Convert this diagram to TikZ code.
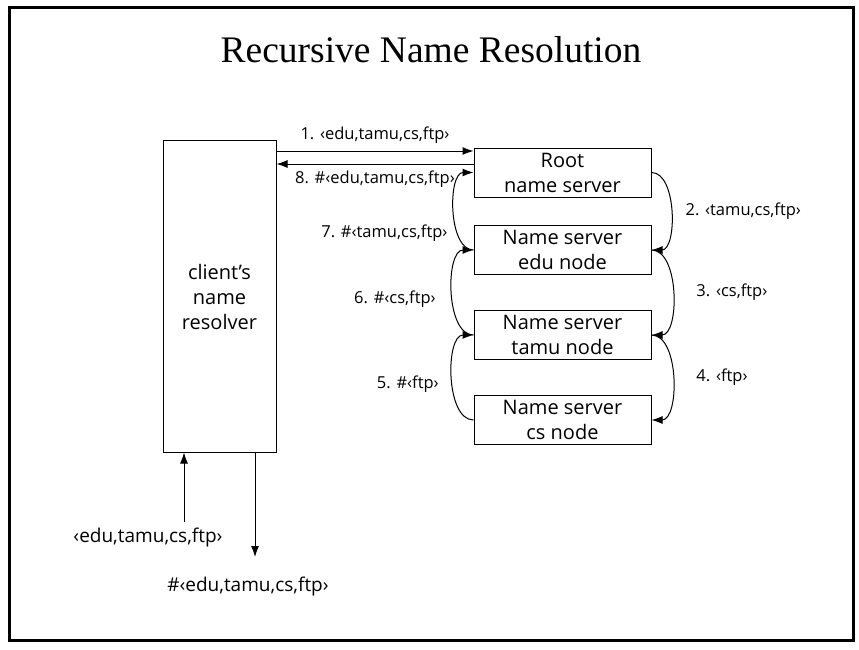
\documentclass[tikz,border=0pt]{standalone}
\usepackage{fontspec}
\setmainfont{Open Sans}
\newfontfamily\titlefont{Liberation Serif}
\usetikzlibrary{arrows.meta,positioning}

\begin{document}
\begin{tikzpicture}[x=1pt,y=-1pt,->,>={Latex[length=11pt,width=8pt]},auto,node distance=85pt,
                line width=1pt,
                server node/.style={draw,minimum width=177pt,minimum height=49pt,align=center,font=\fontsize{20}{25}\selectfont},
                client node/.style={draw,minimum width=113pt,minimum height=311pt,align=center,font=\fontsize{20}{25}\selectfont},
                msg/.style={font=\fontsize{16.5}{19}\selectfont},
                hop/.style={bend left=90,looseness=.85}]

  \useasboundingbox (0,0) rectangle (859,650);
  \draw[-,line width=3pt] (9,8) rectangle (853,640);
  \node[font=\titlefont\fontsize{37.5}{42}\selectfont] (title) at (431,50) {Recursive Name Resolution};

  \node[client node] (client) at (219.5,296.5) {client’s\\name\\resolver};
  \node[server node] (root) at (562.5,172.5) {Root\\name server};
  \node[server node] (edu) [node distance=77.5pt,below of=root] {Name server\\edu node};
  \node[server node] (tamu) [below of=edu] {Name server\\tamu node};
  \node[server node] (cs) [below of=tamu] {Name server\\cs node};

  \coordinate (ask) at ([yshift=21.5pt]root.west);
  \coordinate (reply) at ([yshift=8.5pt]root.west);
  \coordinate (query) at (184,522);
  \coordinate (answer) at (255,557);
  \node[font=\fontsize{19}{23}\selectfont] (querytext) at (148,538) {‹edu,tamu,cs,ftp›};
  \node[font=\fontsize{19}{23}\selectfont] (answertext) at (248,587) {\#‹edu,tamu,cs,ftp›};

  \path
    (client.east |- ask) edge node[msg,above=4pt] {1. ‹edu,tamu,cs,ftp›} (ask)
    (reply) edge node[msg,below=3pt] {8. \#‹edu,tamu,cs,ftp›} (client.east |- reply)
    (root.east) edge[hop] node[msg,right=11pt] {2. ‹tamu,cs,ftp›} (edu.east)
    (edu.east) edge[hop] node[msg,right=20pt] {3. ‹cs,ftp›} (tamu.east)
    (tamu.east) edge[hop] node[msg,right=20pt] {4. ‹ftp›} (cs.east)
    (cs.west) edge[hop] node[msg,left=10pt,pos=.45] {5. \#‹ftp›} (tamu.west)
    (tamu.west) edge[hop] node[msg,left=13pt,pos=.45] {6. \#‹cs,ftp›} (edu.west)
    (edu.west) edge[hop] node[msg,left=6pt,pos=.3] {7. \#‹tamu,cs,ftp›} (root.west)
    (query) edge (client.south -| query)
    (client.south -| answer) edge (answer);
\end{tikzpicture}
\end{document}
